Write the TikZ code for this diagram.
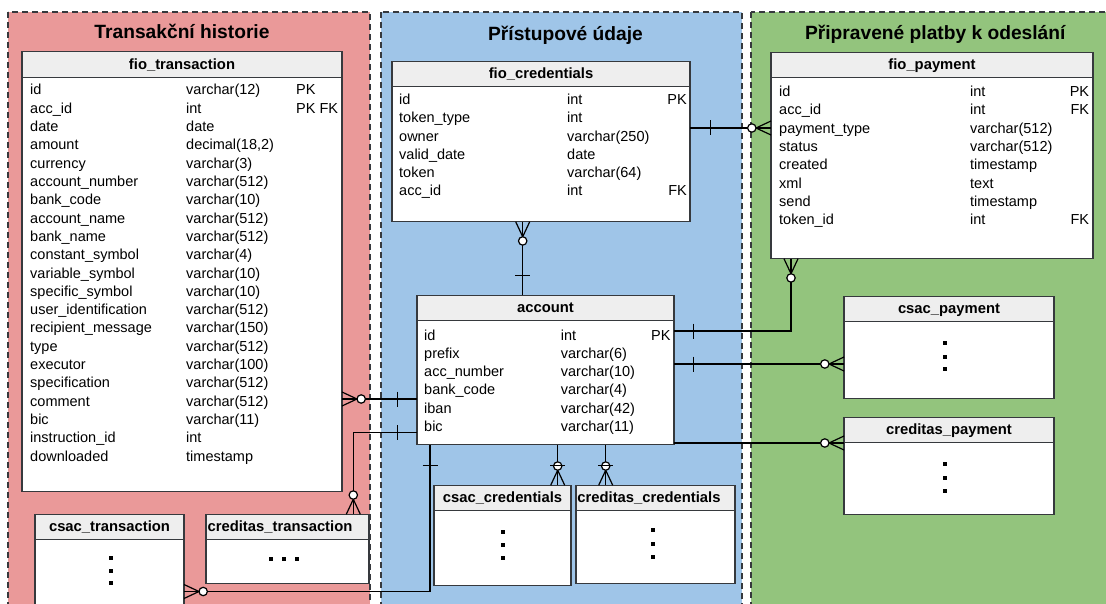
\documentclass[tikz,border=0pt]{standalone}
\usepackage{fontspec}
\setmainfont{Liberation Sans}
\usepackage{xcolor}
\usetikzlibrary{positioning,calc}

\definecolor{histred}{HTML}{EA9999}
\definecolor{credblue}{HTML}{9FC5E8}
\definecolor{paygreen}{HTML}{93C47D}
\definecolor{hdrgray}{HTML}{EEEEEE}
\definecolor{edge}{HTML}{36393D}

\tikzset{
  erline/.style={line width=1.2pt, black},
  pics/many/.style={code={
    \draw[erline] (-15,0) -- (0,-7) (-15,0) -- (0,7);
    \draw[erline, fill=white] (-19.2,0) circle (4.2pt);
  }},
  pics/one/.style={code={
    \draw[erline] (0,-7.5) -- (0,7.5);
  }}
}

\begin{document}
\begin{tikzpicture}[x=1pt, y=-1pt,
    zone/.style={draw=edge, line width=1.3pt, dash pattern=on 6pt off 4pt},
    title/.style={anchor=base, font=\bfseries\fontsize{19.2}{22}\selectfont},
    hdr/.style={draw=edge, fill=hdrgray, line width=1.2pt, inner sep=0pt, outer sep=0pt,
      minimum height=25.5pt, text height=10.6pt, text depth=1.5pt,
      font=\bfseries\fontsize{14.8}{17}\selectfont},
    tbl/.style={draw=edge, fill=white, line width=1.2pt, inner sep=0pt, outer sep=0pt,
      below=0pt of #1},
    cell/.style={anchor=base west, inner sep=0pt, font=\fontsize{14.5}{17}\selectfont},
    pk/.style={anchor=base east, inner sep=0pt, font=\fontsize{14.5}{17}\selectfont}]

    \useasboundingbox (0,0) rectangle (1106,604);
    \clip (0,0) rectangle (1106,604);

    % Zones
    \draw[zone, fill=histred] (8,12) rectangle (370,630);
    \draw[zone, fill=credblue] (381,12) rectangle (742,630);
    \draw[zone, fill=paygreen] (751,12) rectangle (1130,630);
    \node[title] (t-hist) at (182,39) {Transakční historie};
    \node[title] (t-cred) at (565.5,40.7) {Přístupové údaje};
    \node[title] (t-pay) at (935.3,39.3) {Připravené platby k odeslání};

    % fio_transaction
    \node[hdr, minimum width=320pt] (fiotr-h) at (182,64.5) {fio\_transaction};
    \node[tbl=fiotr-h, minimum width=320pt, minimum height=414pt] (fiotr) {};
    \foreach \fld/\typ/\kk [count=\i from 0] in {id/varchar(12)/PK, acc\_id/int/PK FK,
        date/date/{}, amount/{decimal(18,2)}/{}, currency/varchar(3)/{},
        account\_number/varchar(512)/{}, bank\_code/varchar(10)/{},
        account\_name/varchar(512)/{}, bank\_name/varchar(512)/{},
        constant\_symbol/varchar(4)/{}, variable\_symbol/varchar(10)/{},
        specific\_symbol/varchar(10)/{}, user\_identification/varchar(512)/{},
        recipient\_message/varchar(150)/{}, type/varchar(512)/{},
        executor/varchar(100)/{}, specification/varchar(512)/{},
        comment/varchar(512)/{}, bic/varchar(11)/{}, instruction\_id/int/{},
        downloaded/timestamp/{}} {
      \node[cell] (fiotr-n\i) at (30,95+18.3*\i) {\fld};
      \node[cell] (fiotr-t\i) at (186,95+18.3*\i) {\typ};
      \node[cell] (fiotr-k\i) at (296,95+18.3*\i) {\kk};
    }

    % csac_transaction, creditas_transaction
    \node[hdr, minimum width=149pt] (csactr-h) at (109.5,527) {csac\_transaction};
    \node[tbl=csactr-h, minimum width=149pt, minimum height=80pt] (csactr) {};
    \node[hdr, minimum width=163pt] (credtr-h) at (287.5,527) {creditas\_transaction\hspace*{15pt}};
    \node[tbl=credtr-h, minimum width=163pt, minimum height=44pt] (credtr) {};
    \foreach \yy in {557.7,570.7,583.3} \fill (110.8,\yy) ++(-2.1,-2) rectangle ++(4.2,4);
    \foreach \xx in {270.7,284.3,297} \fill (\xx,559.3) ++(-2.1,-2) rectangle ++(4.2,4);

    % fio_credentials
    \node[hdr, minimum width=298pt] (fiocr-h) at (541,74) {fio\_credentials};
    \node[tbl=fiocr-h, minimum width=298pt, minimum height=135pt] (fiocr) {};
    \foreach \fld/\typ/\kk [count=\i from 0] in {id/int/PK, token\_type/int/{},
        owner/varchar(250)/{}, valid\_date/date/{}, token/varchar(64)/{}, acc\_id/int/FK} {
      \node[cell] (fiocr-n\i) at (399,104.5+18.3*\i) {\fld};
      \node[cell] (fiocr-t\i) at (567,104.5+18.3*\i) {\typ};
      \node[pk] (fiocr-k\i) at (687,104.5+18.3*\i) {\kk};
    }

    % account
    \node[hdr, minimum width=257pt] (acc-h) at (545.5,308) {account};
    \node[tbl=acc-h, minimum width=257pt, minimum height=124pt] (acc) {};
    \foreach \fld/\typ/\kk [count=\i from 0] in {id/int/PK, prefix/varchar(6)/{},
        acc\_number/varchar(10)/{}, bank\_code/varchar(4)/{}, iban/varchar(42)/{},
        bic/varchar(11)/{}} {
      \node[cell] (acc-n\i) at (424,340+18.3*\i) {\fld};
      \node[cell] (acc-t\i) at (560.7,340+18.3*\i) {\typ};
      \node[pk] (acc-k\i) at (670.7,340+18.3*\i) {\kk};
    }

    % csac_credentials, creditas_credentials
    \node[hdr, minimum width=137pt] (csaccr-h) at (502.5,498) {csac\_credentials};
    \node[tbl=csaccr-h, minimum width=137pt, minimum height=75pt] (csaccr) {};
    \node[hdr, minimum width=159pt] (credcr-h) at (655.5,498) {creditas\_credentials\hspace*{13pt}};
    \node[tbl=credcr-h, minimum width=159pt, minimum height=73pt] (credcr) {};
    \foreach \yy in {531.7,545,557.7} \fill (503.3,\yy) ++(-2.1,-2) rectangle ++(4.2,4);
    \foreach \yy in {530,543.7,556.7} \fill (652.7,\yy) ++(-2.1,-2) rectangle ++(4.2,4);

    % fio_payment
    \node[hdr, minimum width=322pt] (fiopay-h) at (932,65) {fio\_payment};
    \node[tbl=fiopay-h, minimum width=322pt, minimum height=181pt] (fiopay) {};
    \foreach \fld/\typ/\kk [count=\i from 0] in {id/int/PK, acc\_id/int/FK,
        payment\_type/varchar(512)/{}, status/varchar(512)/{}, created/timestamp/{},
        xml/text/{}, send/timestamp/{}, token\_id/int/FK} {
      \node[cell] (fiopay-n\i) at (779,96.7+18.3*\i) {\fld};
      \node[cell] (fiopay-t\i) at (970,96.7+18.3*\i) {\typ};
      \node[pk] (fiopay-k\i) at (1089.3,96.7+18.3*\i) {\kk};
    }

    % csac_payment, creditas_payment
    \node[hdr, minimum width=210pt] (csacpay-h) at (949,309) {csac\_payment};
    \node[tbl=csacpay-h, minimum width=210pt, minimum height=77pt] (csacpay) {};
    \node[hdr, minimum width=210pt] (credpay-h) at (949,430) {creditas\_payment};
    \node[tbl=credpay-h, minimum width=210pt, minimum height=72pt] (credpay) {};
    \foreach \yy in {343.3,356.7,369.3} \fill (945.3,\yy) ++(-2.1,-2) rectangle ++(4.2,4);
    \foreach \yy in {464.3,477.7,490.7} \fill (945.3,\yy) ++(-2.1,-2) rectangle ++(4.2,4);

    % Relations
    \draw[erline] (fiocr.east |- 0,128) -- (fiopay.west |- 0,128);
    \draw[erline] (fiocr.south -| 522.7,0) -- (acc-h.north -| 522.7,0);
    \draw[erline] (fiopay.south -| 791,0) |- (acc.east |- 0,331);
    \draw[erline] (acc.east |- 0,364) -- (csacpay.west |- 0,364);
    \draw[erline] (acc.east |- 0,443) -- (credpay.west |- 0,443);
    \draw[erline] (acc.west |- 0,399) -- (fiotr.east |- 0,399);
    \draw[erline] (acc.west |- 0,432.7) -| (credtr-h.north -| 353.3,0);
    \draw[erline] (acc.south -| 430,0) |- (csactr.east |- 0,591.5);
    \draw[erline] (acc.south -| 557.7,0) -- (csaccr-h.north -| 557.7,0);
    \draw[erline] (acc.south -| 605.7,0) -- (credcr-h.north -| 605.7,0);

    % zero or many
    \pic[rotate=90] at (fiocr.south -| 522.7,0) {many};
    \pic at (fiopay.west |- 0,128) {many};
    \pic[rotate=90] at (fiopay.south -| 791,0) {many};
    \pic at (csacpay.west |- 0,364) {many};
    \pic at (credpay.west |- 0,443) {many};
    \pic[rotate=180] at (fiotr.east |- 0,399) {many};
    \pic[rotate=-90] at (credtr-h.north -| 353.3,0) {many};
    \pic[rotate=180] at (csactr.east |- 0,591.5) {many};
    \pic[rotate=-90] at (csaccr-h.north -| 557.7,0) {many};
    \pic[rotate=-90] at (credcr-h.north -| 605.7,0) {many};

    % exactly one
    \pic at ($(fiocr.east |- 0,128)+(20.5,0)$) {one};
    \pic[rotate=90] at ($(acc-h.north -| 522.7,0)+(0,-20)$) {one};
    \pic at ($(acc.east |- 0,331)+(19.3,0)$) {one};
    \pic at ($(acc.east |- 0,364)+(19.3,0)$) {one};
    \pic at ($(acc.west |- 0,399)+(-19.3,0)$) {one};
    \pic at ($(acc.west |- 0,432.7)+(-19.3,0)$) {one};
    \pic[rotate=90] at ($(acc.south -| 430,0)+(0,21)$) {one};
    \pic[rotate=90] at ($(acc.south -| 557.7,0)+(0,20.5)$) {one};
    \pic[rotate=90] at ($(acc.south -| 605.7,0)+(0,20.5)$) {one};
\end{tikzpicture}
\end{document}
